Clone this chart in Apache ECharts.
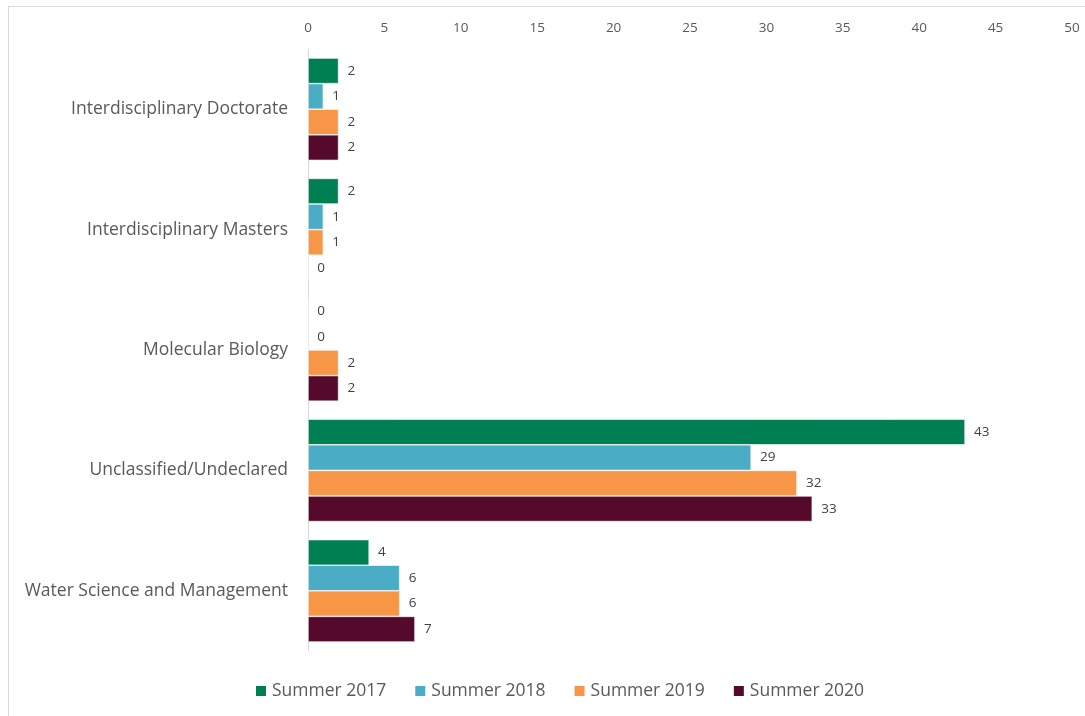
<!DOCTYPE html>
<html>
<head>
<meta charset="utf-8">
<script src="https://cdn.jsdelivr.net/npm/echarts@6/dist/echarts.min.js"></script>
<style>
  html, body { margin: 0; padding: 0; background: #fff; }
  #frame { position: absolute; left: 8px; top: 6px; width: 1100px; height: 730px; border: 1px solid #d9d9d9; box-sizing: border-box; }
  #chart { position: absolute; left: 0; top: 0; width: 1085px; height: 716px; }
</style>
</head>
<body>
<div id="frame"></div>
<div id="chart"></div>
<script>
// Enrolment counts by program, one array per summer term
const categories = ['Interdisciplinary Doctorate', 'Interdisciplinary Masters', 'Molecular Biology', 'Unclassified/Undeclared', 'Water Science and Management'];
const summer2017 = [2, 2, 0, 43, 4];
const summer2018 = [1, 1, 0, 29, 6];
const summer2019 = [2, 1, 2, 32, 6];
const summer2020 = [2, 0, 2, 33, 7];
const seriesNames = ['Summer 2017', 'Summer 2018', 'Summer 2019', 'Summer 2020'];
const colors = ['#008052', '#4BACC6', '#F79646', '#550A2B'];
const xTicks = { min: 0, max: 50, interval: 5 };

const font = '"Open Sans", Lato, sans-serif';
const chart = echarts.init(document.getElementById('chart'), null, { renderer: 'canvas' });

const values = [summer2017, summer2018, summer2019, summer2020];
const series = values.map((v, i) => ({
  name: seriesNames[i],
  type: 'bar',
  data: v,
  barGap: '0%',
  barCategoryGap: '15%',
  itemStyle: { color: colors[i], borderColor: '#ffffff', borderWidth: 0.6 },
  label: {
    show: true,
    position: 'right',
    distance: 9,
    color: '#404040',
    fontFamily: font,
    fontSize: 13.5
  }
}));

chart.setOption({
  animation: false,
  color: colors,
  grid: { left: 308, right: 13, top: 49, bottom: 65, containLabel: false },
  xAxis: {
    type: 'value',
    position: 'top',
    min: xTicks.min,
    max: xTicks.max,
    interval: xTicks.interval,
    axisLine: { show: false },
    axisTick: { show: false },
    splitLine: { show: false },
    axisLabel: { color: '#595959', fontFamily: font, fontSize: 13.5, margin: 14 }
  },
  yAxis: {
    type: 'category',
    data: categories,
    inverse: true,
    axisLine: { show: true, lineStyle: { color: '#d9d9d9', width: 1 } },
    axisTick: { show: false },
    axisLabel: { color: '#595959', fontFamily: font, fontSize: 17.5, margin: 20 }
  },
  legend: {
    bottom: 11,
    left: 249,
    itemWidth: 12,
    itemHeight: 12,
    itemGap: 27,
    icon: 'rect',
    textStyle: { color: '#595959', fontFamily: font, fontSize: 17.5 },
    data: seriesNames
  },
  series: series
});
</script>
</body>
</html>
